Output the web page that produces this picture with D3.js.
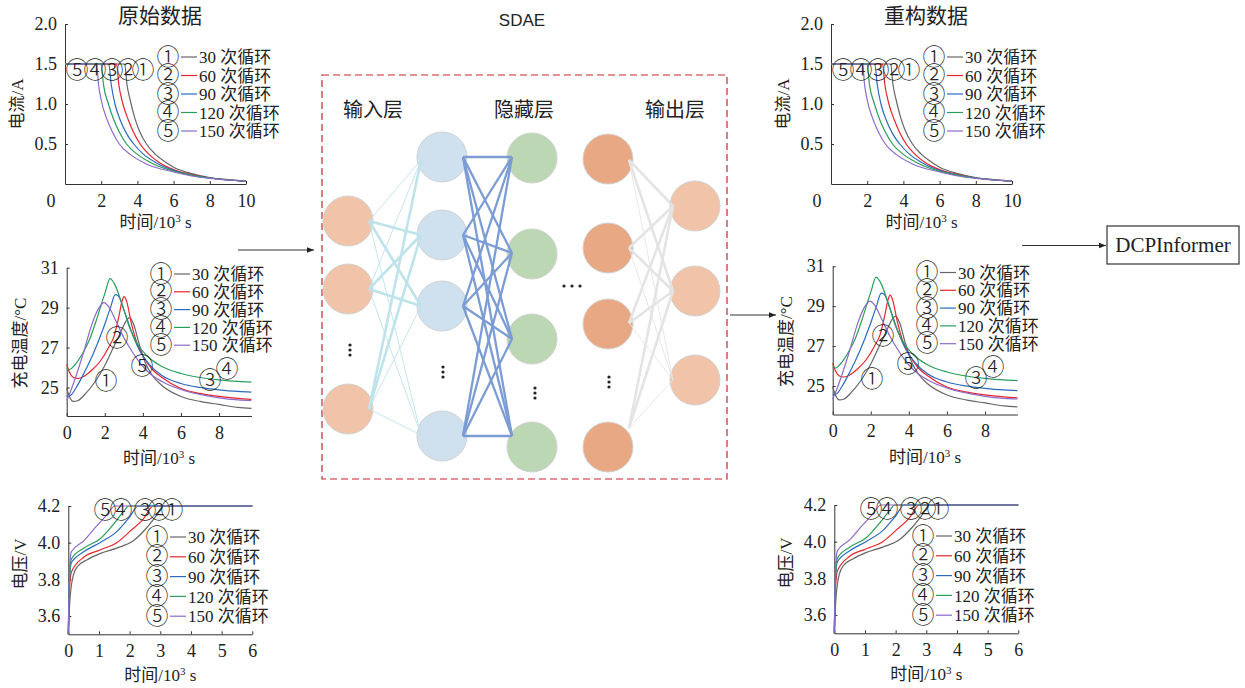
<!DOCTYPE html>
<html>
<head>
<meta charset="utf-8">
<script src="https://cdn.jsdelivr.net/npm/d3@7"></script>
<style>
  body { margin: 0; background: #fff; }
  svg { display: block; }
  text { font-family: "Liberation Serif", "Times New Roman", "Noto Sans CJK SC", serif; fill: #222; }
  text.circ { font-family: "Noto Sans CJK SC", sans-serif; font-weight: 300; }
</style>
</head>
<body>
<svg id="fig" width="1245" height="688"></svg>
<script>
// series names
const cycleLabels = ["30 次循环", "60 次循环", "90 次循环", "120 次循环", "150 次循环"];
const circled = ["①", "②", "③", "④", "⑤"];
const seriesColors = ["#666666", "#e6262b", "#2c6cc0", "#2a9d5c", "#8d6ac8"];

// charging current, [time 10^3 s, A]
const current30 = [[0,1.5],[3.3,1.5],[3.42,1.25],[3.6,1.05],[3.85,0.83],[4.1,0.67],[4.5,0.5],[5,0.37],[5.5,0.28],[6,0.21],[7,0.13],[8,0.08],[9,0.055],[10,0.04]];
const current60 = [[0,1.5],[2.85,1.5],[2.97,1.25],[3.2,1.0],[3.5,0.8],[3.8,0.64],[4.15,0.5],[4.6,0.38],[5.2,0.27],[6,0.18],[7,0.12],[8,0.075],[9,0.05],[10,0.035]];
const current90 = [[0,1.5],[2.42,1.5],[2.55,1.25],[2.76,1.0],[3.05,0.8],[3.4,0.63],[3.8,0.5],[4.3,0.38],[5,0.27],[6,0.17],[7,0.11],[8,0.075],[9,0.05],[10,0.035]];
const current120 = [[0,1.5],[2.0,1.5],[2.12,1.25],[2.4,1.0],[2.7,0.8],[3.0,0.65],[3.4,0.5],[4,0.37],[4.8,0.26],[6,0.16],[7,0.11],[8,0.075],[9,0.05],[10,0.035]];
const current150 = [[0,1.5],[1.75,1.5],[1.85,1.25],[2.0,1.05],[2.3,0.82],[2.6,0.66],[3.0,0.5],[3.6,0.37],[4.5,0.25],[6,0.15],[7,0.1],[8,0.07],[9,0.05],[10,0.035]];

// charging temperature, [time 10^3 s, °C]
const temp30 = [[0,24.95],[0.12,24.6],[0.35,24.3],[0.6,24.35],[1.0,24.7],[1.5,25.3],[2.0,26.1],[2.4,26.9],[2.8,27.7],[3.1,28.3],[3.3,28.5],[3.5,28.2],[3.8,27.2],[4.1,26.3],[4.5,25.6],[5,25.1],[6,24.55],[7,24.3],[8,24.15],[9,24.0],[9.7,23.95]];
const temp60 = [[0,26.15],[0.15,25.75],[0.35,25.5],[0.6,25.45],[0.9,25.55],[1.3,25.85],[1.75,26.3],[2.2,27.0],[2.5,27.6],[2.75,28.6],[2.9,29.3],[3.02,29.55],[3.15,29.3],[3.4,28.2],[3.7,27.2],[4.0,26.6],[4.5,25.9],[5,25.5],[6,24.95],[7,24.7],[8,24.55],[9,24.45],[9.7,24.4]];
const temp90 = [[0,24.55],[0.2,24.6],[0.5,25.0],[0.9,25.7],[1.4,26.7],[1.9,27.9],[2.3,29.0],[2.55,29.65],[2.7,29.6],[3.0,28.9],[3.4,27.8],[3.8,26.9],[4.3,26.2],[5,25.6],[6,25.2],[7,25.0],[8,24.88],[9,24.8],[9.7,24.77]];
const temp120 = [[0,25.95],[0.15,25.9],[0.4,26.1],[0.8,26.65],[1.2,27.4],[1.6,28.5],[2.0,29.7],[2.28,30.45],[2.5,30.2],[2.9,29.2],[3.3,28.0],[3.7,27.2],[4.2,26.6],[5,26.05],[6,25.7],[7,25.5],[8,25.38],[9,25.3],[9.7,25.27]];
const temp150 = [[0,24.35],[0.2,24.8],[0.5,25.6],[0.9,26.8],[1.3,28.1],[1.7,29.0],[1.96,29.25],[2.2,29.05],[2.6,28.3],[3.0,27.5],[3.5,26.7],[4.0,26.05],[4.5,25.6],[5,25.3],[6,24.9],[7,24.65],[8,24.48],[9,24.38],[9.7,24.35]];

// charging voltage, [time 10^3 s, V]
const volt30 = [[0,3.5],[0.05,3.68],[0.16,3.82],[0.3,3.87],[0.6,3.905],[1.03,3.94],[1.58,3.97],[2.12,4.01],[2.55,4.08],[2.88,4.15],[3.1,4.2],[6,4.2]];
const volt60 = [[0,3.5],[0.04,3.75],[0.1,3.84],[0.5,3.92],[1.03,3.96],[1.58,4.0],[2.0,4.06],[2.45,4.13],[2.77,4.2],[6,4.2]];
const volt90 = [[0,3.5],[0.04,3.8],[0.1,3.89],[0.5,3.95],[1.03,4.0],[1.58,4.06],[2.0,4.14],[2.28,4.2],[6,4.2]];
const volt120 = [[0,3.5],[0.04,3.82],[0.1,3.91],[0.5,3.97],[1.03,4.02],[1.47,4.1],[1.85,4.18],[1.96,4.2],[6,4.2]];
const volt150 = [[0,3.5],[0.04,3.85],[0.1,3.95],[0.5,4.01],[0.92,4.09],[1.25,4.15],[1.52,4.2],[6,4.2]];

const currentTicksX = [2, 4, 6, 8, 10];
const currentTicksY = [0.5, 1.0, 1.5, 2.0];
const tempTicksX = [0, 2, 4, 6, 8];
const tempTicksY = [25, 27, 29, 31];
const voltTicksX = [0, 1, 2, 3, 4, 5, 6];
const voltTicksY = [3.6, 3.8, 4.0, 4.2];

const svg = d3.select("#fig");
const FS = 17;     // labels
const TS = 18;     // tick numbers
const CS = 23;     // circled numbers

svg.append("defs").append("marker")
  .attr("id", "arr").attr("viewBox", "0 0 10 10")
  .attr("refX", 10).attr("refY", 5)
  .attr("markerWidth", 9).attr("markerHeight", 7)
  .attr("markerUnits", "userSpaceOnUse")
  .attr("orient", "auto")
  .append("path").attr("d", "M0,1L10,5L0,9Z").attr("fill", "#222");

const panels = [
  {
    data: [current30, current60, current90, current120, current150],
    xd: [0, 10], xr: [65, 246], yd: [0, 2], yr: [184, 24],
    xt: currentTicksX, yt: currentTicksY, yf: d3.format(".1f"), origin0: true,
    ylab: "电流/A", ylabPos: [17, 104], xlabY: 228,
    leg: { x: 168, y0: 57, dy: 18.5 },
    ann: [[4, 77, 70], [3, 95, 70], [2, 112, 70], [1, 128, 70], [0, 143, 70]]
  },
  {
    data: [temp30, temp60, temp90, temp120, temp150],
    xd: [0, 9.7], xr: [66.7, 251.4], yd: [23.57, 31], yr: [416, 267.7],
    xt: tempTicksX, yt: tempTicksY, yf: d3.format("d"), origin0: false,
    ylab: "充电温度/°C", ylabPos: [20, 343], xlabY: 464,
    leg: { x: 161, y0: 274, dy: 17.8 },
    ann: [[0, 106, 381], [1, 117, 338], [4, 142, 366], [2, 210, 380], [3, 227, 369]]
  },
  {
    data: [volt30, volt60, volt90, volt120, volt150],
    xd: [0, 6], xr: [68.3, 252.3], yd: [3.5, 4.2], yr: [634.3, 506],
    xt: voltTicksX, yt: voltTicksY, yf: d3.format(".1f"), origin0: false,
    ylab: "电压/V", ylabPos: [20, 564], xlabY: 681,
    leg: { x: 157, y0: 537, dy: 19.8 },
    ann: [[4, 105, 510], [3, 121, 510], [2, 145, 510], [1, 159, 510], [0, 172, 510]]
  }
];

function drawPanel(p, dx, dy) {
  const g = svg.append("g").attr("transform", `translate(${dx},${dy})`);
  const x = d3.scaleLinear().domain(p.xd).range(p.xr);
  const y = d3.scaleLinear().domain(p.yd).range(p.yr);

  const xa = g.append("g").attr("transform", `translate(0,${p.yr[0]})`)
    .call(d3.axisBottom(x).tickValues(p.xt).tickSize(-3).tickSizeOuter(0).tickPadding(10).tickFormat(d3.format("d")));
  const ya = g.append("g").attr("transform", `translate(${p.xr[0]},0)`)
    .call(d3.axisLeft(y).tickValues(p.yt).tickSize(-3).tickSizeOuter(0).tickPadding(8).tickFormat(p.yf));
  [xa, ya].forEach(a => {
    a.attr("font-family", null).attr("font-size", TS);
    a.selectAll("path, line").attr("stroke", "#333");
    a.selectAll("text").attr("fill", "#222");
  });
  if (p.origin0) {
    g.append("text").attr("x", x(0) - 14).attr("y", p.yr[0] + 23)
      .attr("text-anchor", "middle").attr("font-size", TS).text("0");
  }

  const line = d3.line().x(d => x(d[0])).y(d => y(d[1])).curve(d3.curveMonotoneX);
  g.append("g").selectAll("path").data(p.data).join("path")
    .attr("d", line).attr("fill", "none")
    .attr("stroke", (d, i) => seriesColors[i]).attr("stroke-width", 1.2);

  // circled labels on the curves
  g.append("g").selectAll("text").data(p.ann).join("text").attr("class", "circ")
    .attr("x", d => d[1]).attr("y", d => d[2]).attr("dy", "0.33em")
    .attr("text-anchor", "middle").attr("font-size", CS).attr("fill", "#333")
    .text(d => circled[d[0]]);

  // legend
  const leg = g.append("g").selectAll("g").data(cycleLabels).join("g")
    .attr("transform", (d, i) => `translate(${p.leg.x},${p.leg.y0 + i * p.leg.dy})`);
  leg.append("text").attr("class", "circ").attr("text-anchor", "middle").attr("dy", "0.33em")
    .attr("font-size", CS).text((d, i) => circled[i]);
  leg.append("line").attr("x1", 13).attr("x2", 29).attr("y1", 0).attr("y2", 0)
    .attr("stroke", (d, i) => seriesColors[i]).attr("stroke-width", 1.2);
  leg.append("text").attr("x", 31).attr("dy", "0.36em").attr("font-size", FS).text(d => d);

  // axis titles
  g.append("text")
    .attr("transform", `translate(${p.ylabPos[0]},${p.ylabPos[1]}) rotate(-90)`)
    .attr("text-anchor", "middle").attr("dy", "0.36em").attr("font-size", FS).text(p.ylab);
  const xl = g.append("text").attr("x", (p.xr[0] + p.xr[1]) / 2).attr("y", p.xlabY)
    .attr("text-anchor", "middle").attr("font-size", FS);
  xl.append("tspan").text("时间/10");
  xl.append("tspan").attr("font-size", 11).attr("dy", -6).text("3");
  xl.append("tspan").attr("dy", 6).text(" s");
}

const rightShift = [[766, 0], [766, -1.5], [766, -1]];
panels.forEach((p, k) => {
  drawPanel(p, 0, 0);
  drawPanel(p, rightShift[k][0], rightShift[k][1]);
});

svg.append("text").attr("x", 160).attr("y", 23).attr("text-anchor", "middle")
  .attr("font-size", 21).text("原始数据");
svg.append("text").attr("x", 926).attr("y", 23).attr("text-anchor", "middle")
  .attr("font-size", 21).text("重构数据");
svg.append("text").attr("x", 522).attr("y", 26).attr("text-anchor", "middle")
  .attr("font-size", 17).style("font-family", "'Liberation Sans', Arial, sans-serif").text("SDAE");

// ---- SDAE network ----
const net = svg.append("g");
net.append("rect").attr("x", 322).attr("y", 75).attr("width", 405).attr("height", 404)
  .attr("fill", "none").attr("stroke", "#c9252c").attr("stroke-width", 1.2).attr("stroke-dasharray", "7,4");

const layerNames = [["输入层", 373], ["隐藏层", 524], ["输出层", 675]];
net.selectAll("text.layer").data(layerNames).join("text").attr("class", "layer")
  .attr("x", d => d[1]).attr("y", 117).attr("text-anchor", "middle")
  .attr("font-size", 20).text(d => d[0]);

const netLayers = [
  { x: 348, ys: [221, 289, 409], fill: "#f1c3a8" },
  { x: 442, ys: [157, 235, 306, 436], fill: "#cfe1ef" },
  { x: 532, ys: [158, 254, 339, 447], fill: "#bbd7b3" },
  { x: 608, ys: [159, 248, 324, 447], fill: "#e9a884" },
  { x: 695, ys: [206, 291, 380], fill: "#f1c3a8" }
];
// [from, to, thick]
const inEdges = [[0,0,0],[0,1,1],[0,2,1],[0,3,0],[1,0,0],[1,1,1],[1,2,1],[1,3,0],[2,0,1],[2,1,1],[2,2,0],[2,3,0]];
const inEndY = [160, 235, 306, 435];
const midFromY = [157, 235, 306, 436];
const midToY = [157, 253, 339, 436];
const outFromY = [160, 248, 323, 428];
const outToY = [206, 291, 380];

const edges = net.append("g");
edges.selectAll("line.in").data(inEdges).join("line").attr("class", "in")
  .attr("x1", 369).attr("y1", d => netLayers[0].ys[d[0]])
  .attr("x2", 421).attr("y2", d => inEndY[d[1]])
  .attr("stroke", "#bfe3ea").attr("stroke-width", d => d[2] ? 2.6 : 0.9);

const midEdges = d3.cross(d3.range(4), d3.range(4));
edges.selectAll("line.mid").data(midEdges).join("line").attr("class", "mid")
  .attr("x1", 463).attr("y1", d => midFromY[d[0]])
  .attr("x2", 512).attr("y2", d => midToY[d[1]])
  .attr("stroke", "#7b9cd4").attr("stroke-width", 2.3);

const outEdges = d3.cross(d3.range(4), d3.range(3));
edges.selectAll("line.out").data(outEdges).join("line").attr("class", "out")
  .attr("x1", 629).attr("y1", d => outFromY[d[0]])
  .attr("x2", 673).attr("y2", d => outToY[d[1]])
  .attr("stroke", "#e4e4e4").attr("stroke-width", d => d[1] < 2 ? 2.6 : 0.9);

netLayers.forEach(l => {
  net.append("g").selectAll("circle").data(l.ys).join("circle")
    .attr("cx", l.x).attr("cy", d => d).attr("r", 25)
    .attr("fill", l.fill).attr("stroke", "#d2d2d2").attr("stroke-width", 1);
});
// keep edges visually on top of node edges at the joints
net.node().appendChild(edges.node());

const vDots = [[350, 350], [443, 372], [535, 393], [609, 382]];
vDots.forEach(([cx, cy]) => {
  net.append("g").selectAll("circle").data([-5, 0, 5]).join("circle")
    .attr("cx", cx).attr("cy", d => cy + d).attr("r", 1.6).attr("fill", "#222");
});
net.append("g").selectAll("circle").data([-8, 0, 8]).join("circle")
  .attr("cx", d => 572 + d).attr("cy", 286).attr("r", 1.6).attr("fill", "#222");

// ---- arrows and DCPInformer ----
const arrows = [[238, 250, 314, 250], [730, 315, 776, 315], [1022, 245.5, 1106, 245.5]];
svg.append("g").selectAll("line").data(arrows).join("line")
  .attr("x1", d => d[0]).attr("y1", d => d[1]).attr("x2", d => d[2]).attr("y2", d => d[3])
  .attr("stroke", "#333").attr("stroke-width", 1.2).attr("marker-end", "url(#arr)");

svg.append("rect").attr("x", 1107).attr("y", 226).attr("width", 132).attr("height", 38)
  .attr("fill", "#fff").attr("stroke", "#333").attr("stroke-width", 1.2);
svg.append("text").attr("x", 1173).attr("y", 245).attr("dy", "0.34em")
  .attr("text-anchor", "middle").attr("font-size", 21).text("DCPInformer");
</script>
</body>
</html>
